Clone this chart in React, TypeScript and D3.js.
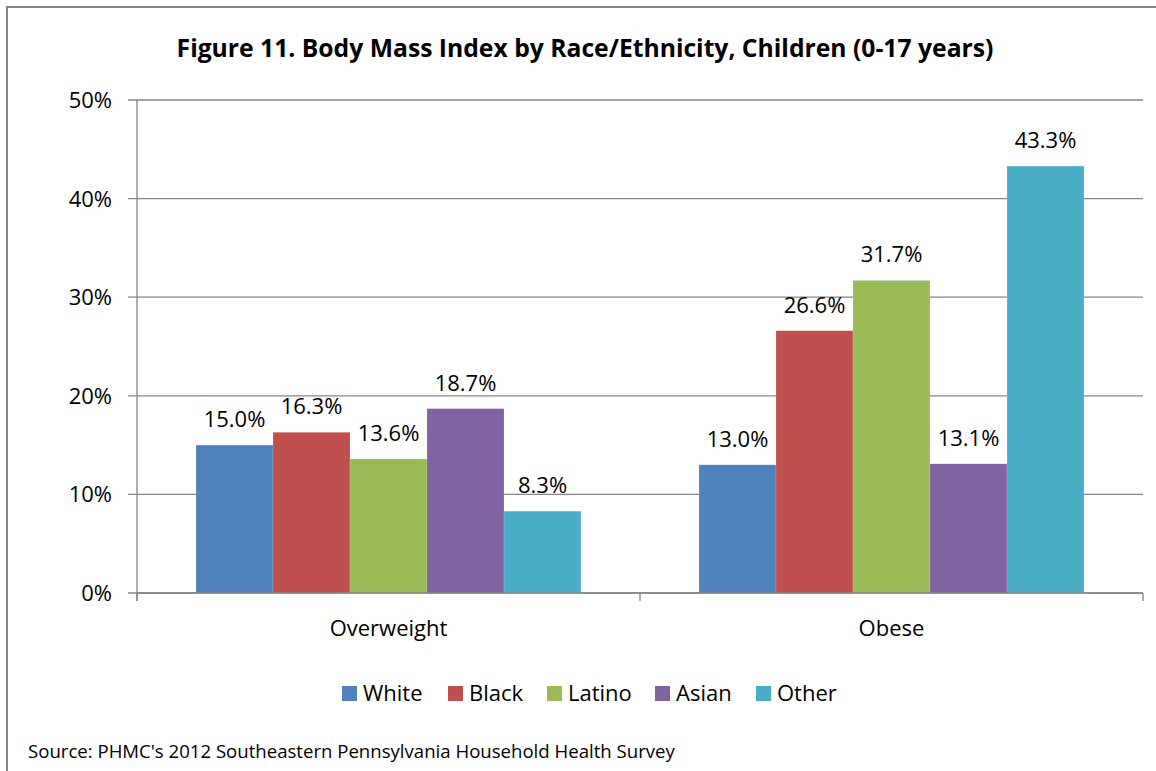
import React from "react";
import * as d3 from "d3";

const categories = ["Overweight", "Obese"];
const series = ["White", "Black", "Latino", "Asian", "Other"];
const colors = ["#4F81BD", "#C0504D", "#9BBB59", "#8064A2", "#4BACC6"];
const values: number[][] = [
  [15.0, 13.0],
  [16.3, 26.6],
  [13.6, 31.7],
  [18.7, 13.1],
  [8.3, 43.3],
];
const yTicks = [0, 10, 20, 30, 40, 50];
const title = "Figure 11. Body Mass Index by Race/Ethnicity, Children (0-17 years)";
const source = "Source: PHMC's 2012 Southeastern Pennsylvania Household Health Survey";

const W = 1156;
const H = 771;
const FONT = "'Open Sans', 'Noto Sans', sans-serif";

export default function App() {
  const left = 137, right = 1143, top = 100, bottom = 593;
  const x0 = d3.scaleBand<string>().domain(categories).range([left, right]).paddingInner(0).paddingOuter(0);
  const gw = x0.bandwidth();
  const innerPad = 59;
  const x1 = d3.scaleBand<string>().domain(series).range([innerPad, gw - innerPad]).padding(0);
  const y = d3.scaleLinear().domain([0, 50]).range([bottom, top]);
  const grid = "#868686";

  const legendX = [342, 448, 547, 655, 756];

  return (
    <svg width={W} height={H} style={{ position: "absolute", left: 0, top: 0, background: "#fff" }} fontFamily={FONT}>
      <rect x={0} y={0} width={W} height={H} fill="#fff" />
      <rect x={7} y={7} width={W + 20} height={H + 20} fill="none" stroke={grid} strokeWidth={2} />
      <text x={585} y={57} textAnchor="middle" fontSize={24.7} fontWeight="bold" fill="#000">{title}</text>

      {yTicks.map((t) => (
        <g key={t}>
          <line x1={128} x2={right} y1={y(t)} y2={y(t)} stroke={grid} strokeWidth={1.3} />
          <text x={112} y={y(t)} dy="0.36em" textAnchor="end" fontSize={22} fill="#000">{t}%</text>
        </g>
      ))}
      <line x1={left} x2={left} y1={top} y2={bottom + 8} stroke={grid} strokeWidth={1.3} />
      {[left, ...categories.map((c) => (x0(c) as number) + gw)].map((xx, i) => (
        <line key={i} x1={xx} x2={xx} y1={bottom} y2={bottom + 8} stroke={grid} strokeWidth={1.3} />
      ))}

      {categories.map((c, ci) => (
        <g key={c} transform={`translate(${x0(c)},0)`}>
          {series.map((s, si) => {
            const v = values[si][ci];
            const bx = x1(s) as number;
            return (
              <g key={s}>
                <rect x={bx} y={y(v)} width={x1.bandwidth()} height={bottom - y(v)} fill={colors[si]} stroke="#fff" strokeOpacity={0.3} strokeWidth={0.5} />
                <text x={bx + x1.bandwidth() / 2} y={y(v) - 18} textAnchor="middle" fontSize={22} fill="#000">{v.toFixed(1)}%</text>
              </g>
            );
          })}
          <text x={gw / 2} y={636} textAnchor="middle" fontSize={22} fill="#000">{c}</text>
        </g>
      ))}
      <line x1={left} x2={right} y1={bottom} y2={bottom} stroke={grid} strokeWidth={1.3} />

      {series.map((s, i) => (
        <g key={s}>
          <rect x={legendX[i]} y={686} width={15} height={15} fill={colors[i]} />
          <text x={legendX[i] + 21} y={701} fontSize={22} fill="#000">{s}</text>
        </g>
      ))}

      <text x={28} y={758} fontSize={18.6} fill="#000">{source}</text>
    </svg>
  );
}
